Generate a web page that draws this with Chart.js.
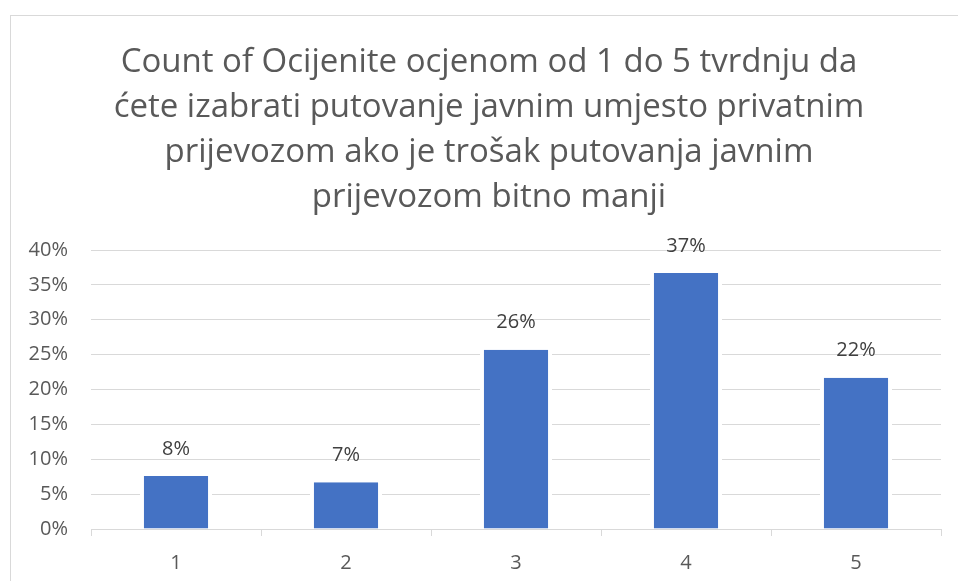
<!DOCTYPE html>
<html>
<head>
<meta charset="utf-8">
<script src="https://cdn.jsdelivr.net/npm/chart.js@4.4.0/dist/chart.umd.min.js"></script>
<style>
  html, body { margin: 0; padding: 0; background: #ffffff; overflow: hidden; width: 958px; height: 581px; }
  #frame { position: absolute; left: 10px; top: 15px; width: 1100px; height: 700px; border: 1px solid #d9d9d9; box-sizing: border-box; }
  #wrap { position: absolute; left: 0; top: 0; width: 958px; height: 581px; }
</style>
</head>
<body>
<div id="frame"></div>
<div id="wrap"><canvas id="c" width="958" height="581"></canvas></div>
<script>
const titleLines = [
  "Count of Ocijenite ocjenom od 1 do 5 tvrdnju da",
  "ćete izabrati putovanje javnim umjesto privatnim",
  "prijevozom ako je trošak putovanja javnim",
  "prijevozom bitno manji"
];
const categories = ["1", "2", "3", "4", "5"];
const percentValues = [7.6, 6.7, 25.7, 36.7, 21.7];
const yTickMax = 40;
const yTickStep = 5;

const FONT = "'Open Sans', Lato, sans-serif";

const dataLabels = {
  id: 'dataLabels',
  afterDatasetsDraw(chart) {
    const ctx = chart.ctx;
    const meta = chart.getDatasetMeta(0);
    ctx.save();
    ctx.font = "20px " + FONT;
    ctx.fillStyle = "#404040";
    ctx.textAlign = "center";
    ctx.textBaseline = "middle";
    meta.data.forEach((el, i) => {
      const v = chart.data.datasets[0].data[i];
      ctx.fillText(Math.round(v) + "%", el.x, el.y - 27);
    });
    ctx.restore();
  }
};

new Chart(document.getElementById('c'), {
  type: 'bar',
  data: {
    labels: categories,
    datasets: [{
      data: percentValues,
      backgroundColor: '#4472C4',
      borderColor: '#ffffff',
      borderWidth: { left: 4, right: 4, top: 0, bottom: 0 },
      borderSkipped: false,
      categoryPercentage: 1.0,
      barPercentage: 0.424
    }]
  },
  options: {
    responsive: false,
    animation: false,
    events: [],
    layout: { padding: { left: 37, right: 17, top: 0, bottom: 0 } },
    plugins: {
      legend: { display: false },
      tooltip: { enabled: false },
      title: {
        display: true,
        text: titleLines,
        color: '#595959',
        font: { family: FONT, size: 33, weight: 'normal', lineHeight: 1.364 },
        padding: { top: 40, bottom: 30 }
      }
    },
    scales: {
      x: {
        z: 1,
        offset: true,
        grid: {
          offset: true,
          drawOnChartArea: false,
          drawTicks: true,
          tickLength: 7,
          color: '#d9d9d9',
          lineWidth: 1
        },
        border: { display: true, color: '#d9d9d9', width: 1 },
        ticks: { color: '#595959', font: { family: FONT, size: 20 }, padding: 15 },
        afterFit(scale) { scale.height = 52; }
      },
      y: {
        min: 0,
        max: yTickMax,
        ticks: {
          stepSize: yTickStep,
          color: '#595959',
          font: { family: FONT, size: 20 },
          padding: 23,
          callback: (v) => v + '%'
        },
        grid: { color: '#d9d9d9', lineWidth: 1, drawTicks: false },
        border: { display: false },
        afterFit(scale) {
          scale.width = 54;
          scale._computeLabelArea = function () { return undefined; };
        }
      }
    }
  },
  plugins: [dataLabels]
});
</script>
</body>
</html>
